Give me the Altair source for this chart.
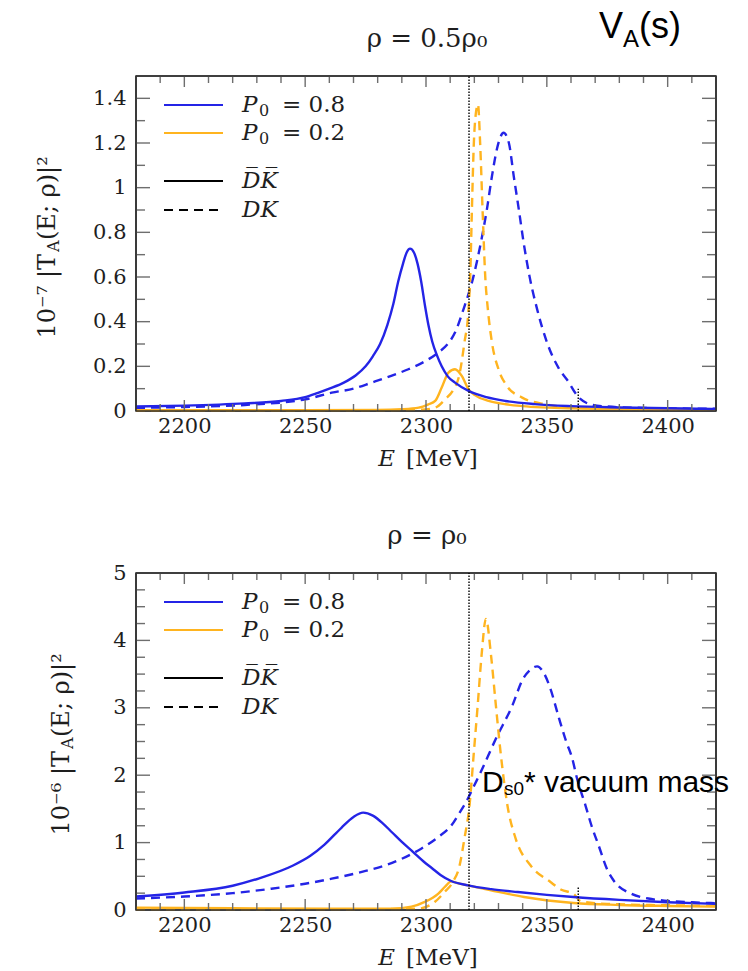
import altair as alt
import pandas as pd

# ---------------- data ----------------
# panel 1: rho = 0.5 rho0   (values in units of 1e-7)
top_blue_solid_E = [2180, 2200, 2225, 2240, 2250, 2255, 2260, 2266, 2271, 2275, 2278, 2281, 2284, 2286.5, 2288.5, 2290.5, 2292, 2293.4, 2295, 2296.5, 2298, 2299.6, 2301, 2302.6, 2304.5, 2306.5, 2309, 2312, 2317.6, 2325, 2332.8, 2345, 2360, 2380, 2400, 2420]
top_blue_solid_v = [0.02, 0.024, 0.034, 0.045, 0.062, 0.08, 0.10, 0.127, 0.16, 0.20, 0.245, 0.30, 0.385, 0.48, 0.58, 0.66, 0.71, 0.727, 0.71, 0.66, 0.58, 0.47, 0.385, 0.31, 0.25, 0.20, 0.155, 0.127, 0.09, 0.062, 0.045, 0.031, 0.022, 0.016, 0.012, 0.009]

top_blue_dash_E = [2180, 2200, 2225, 2250, 2261, 2270, 2277.5, 2285, 2292.7, 2300, 2305, 2309, 2312, 2315.5, 2319.7, 2322.7, 2325.2, 2327.3, 2329.5, 2332.1, 2334.3, 2336.3, 2338.4, 2340.4, 2342.8, 2346, 2350.1, 2355, 2359, 2361.5, 2364, 2368, 2375, 2390, 2420]
top_blue_dash_v = [0.014, 0.018, 0.027, 0.052, 0.082, 0.10, 0.127, 0.155, 0.187, 0.225, 0.261, 0.30, 0.351, 0.455, 0.605, 0.754, 0.903, 1.052, 1.18, 1.246, 1.20, 1.052, 0.903, 0.754, 0.605, 0.455, 0.306, 0.19, 0.13, 0.085, 0.053, 0.03, 0.02, 0.014, 0.01]

top_orange_solid_E = [2180, 2250, 2280, 2290, 2297, 2301, 2303.8, 2306.5, 2309.3, 2312, 2314.8, 2317.6, 2320.4, 2325.9, 2333, 2339.8, 2360, 2390, 2420]
top_orange_solid_v = [0.004, 0.004, 0.005, 0.008, 0.015, 0.03, 0.045, 0.105, 0.172, 0.187, 0.157, 0.097, 0.07, 0.045, 0.03, 0.022, 0.012, 0.008, 0.006]

top_orange_dash_E = [2180, 2280, 2298, 2303.8, 2307.9, 2311.4, 2313.7, 2315.9, 2317.6, 2318.3, 2319, 2319.8, 2320.6, 2321.5, 2322.4, 2323.4, 2324.5, 2325.6, 2327.3, 2330, 2333.5, 2339.8, 2349.4, 2362, 2390, 2420]
top_orange_dash_v = [0.002, 0.003, 0.006, 0.015, 0.052, 0.097, 0.157, 0.306, 0.455, 0.605, 0.903, 1.2, 1.33, 1.373, 1.2, 0.903, 0.605, 0.455, 0.306, 0.187, 0.112, 0.06, 0.03, 0.015, 0.008, 0.006]

# panel 2: rho = rho0   (values in units of 1e-6)
bot_blue_solid_E = [2180, 2200, 2220, 2231, 2245, 2252, 2258, 2265, 2270, 2274, 2278, 2282, 2286, 2290, 2294.7, 2299, 2302.5, 2306, 2310.4, 2317.3, 2327, 2338, 2350, 2361, 2380, 2400, 2420]
bot_blue_solid_v = [0.20, 0.26, 0.36, 0.47, 0.66, 0.80, 0.97, 1.22, 1.38, 1.444, 1.40, 1.29, 1.15, 1.01, 0.86, 0.72, 0.62, 0.52, 0.43, 0.366, 0.31, 0.267, 0.225, 0.193, 0.15, 0.115, 0.09]

bot_blue_dash_E = [2180, 2200, 2220, 2236, 2250, 2261, 2275, 2283, 2290, 2298, 2305, 2310.4, 2314, 2317.3, 2320, 2322.7, 2328.9, 2335.8, 2340, 2343, 2346, 2349, 2351.5, 2355, 2358, 2360.5, 2362.5, 2366, 2368.5, 2371.5, 2375, 2378, 2385, 2392, 2400, 2410, 2420]
bot_blue_dash_v = [0.17, 0.20, 0.25, 0.316, 0.39, 0.465, 0.58, 0.66, 0.76, 0.91, 1.08, 1.25, 1.45, 1.65, 1.85, 2.05, 2.54, 3.04, 3.42, 3.56, 3.615, 3.5, 3.28, 2.85, 2.5, 2.25, 1.95, 1.55, 1.25, 0.95, 0.6, 0.42, 0.24, 0.17, 0.135, 0.115, 0.10]

bot_orange_solid_E = [2180, 2220, 2260, 2286, 2294, 2299.5, 2305, 2308, 2310.4, 2313, 2317.3, 2326.9, 2340.6, 2361.1, 2380, 2400, 2420]
bot_orange_solid_v = [0.035, 0.025, 0.02, 0.02, 0.05, 0.12, 0.24, 0.35, 0.425, 0.40, 0.366, 0.292, 0.193, 0.104, 0.075, 0.06, 0.05]

bot_orange_dash_E = [2180, 2250, 2290, 2296.7, 2303.6, 2307.7, 2311.1, 2313.9, 2315.9, 2318, 2319.7, 2321.4, 2323, 2324.8, 2326.9, 2328.9, 2331, 2333.7, 2337.1, 2343.3, 2351.5, 2356, 2361.1, 2364, 2375, 2400, 2420]
bot_orange_dash_v = [0.01, 0.01, 0.015, 0.02, 0.119, 0.267, 0.415, 0.66, 1.06, 1.55, 2.295, 3.04, 3.78, 4.32, 3.78, 3.04, 2.295, 1.55, 1.06, 0.66, 0.415, 0.30, 0.24, 0.13, 0.09, 0.07, 0.06]

# reference lines (MeV)
ds0_vacuum_mass = [2317.8]
dk_threshold = [2363]
top_threshold_span = [0, 0.1]
bot_threshold_span = [0, 0.34]

# axes
E_domain = [2180, 2420]
x_label_values = [2200, 2250, 2300, 2350, 2400]
x_minor_ticks = [2190, 2210, 2220, 2230, 2240, 2260, 2270, 2280, 2290, 2310, 2320, 2330, 2340, 2360, 2370, 2380, 2390, 2410]
top_y_labels = [0, 0.2, 0.4, 0.6, 0.8, 1.0, 1.2, 1.4]
top_y_minor = [0.1, 0.3, 0.5, 0.7, 0.9, 1.1, 1.3]
bot_y_labels = [0, 1, 2, 3, 4, 5]
bot_y_minor = [0.25, 0.5, 0.75, 1.25, 1.5, 1.75, 2.25, 2.5, 2.75, 3.25, 3.5, 3.75, 4.25, 4.5, 4.75]

# ---------------- styling ----------------
SERIF = "DejaVu Serif"
SANS = "Liberation Sans, Arial, sans-serif"
INK = "#1e1e1e"
BLUE = "#2424e6"
ORANGE = "#ffb41f"
TICKC = "#6e6e6e"
FRAME = "#333333"
DASH = [9, 6]
LW = 2.4
ONE = alt.Data(values=[{"k": 0}])


def txt(s, x, y, size, font=SERIF, style="normal", align="left", baseline="alphabetic", angle=0, color=INK, weight="normal"):
    return alt.Chart(ONE).mark_text(
        text=s, fontSize=size, font=font, fontStyle=style, align=align,
        baseline=baseline, angle=angle, color=color, fontWeight=weight
    ).encode(x=alt.value(x), y=alt.value(y))


def seg(x1, x2, y1, y2, color, width=2.2, dash=None):
    kw = dict(color=color, strokeWidth=width)
    if dash:
        kw["strokeDash"] = dash
    return alt.Chart(ONE).mark_rule(**kw).encode(
        x=alt.value(x1), x2=alt.value(x2), y=alt.value(y1), y2=alt.value(y2))


def panel(series, ymax, ylabels, yminor, w, h, thr_span, rho_title, exp_text, ytx, extra):
    xs = alt.Scale(domain=E_domain, nice=False, zero=False)
    ys = alt.Scale(domain=[0, ymax], nice=False, zero=False)
    xax = alt.Axis(values=x_label_values, format="d", ticks=False, tickSize=0, domain=False,
                   grid=False, labelFont=SERIF, labelFontSize=21, labelColor=INK,
                   labelPadding=4, title=None)
    yax = alt.Axis(values=ylabels, format="~g", ticks=False, tickSize=0, domain=False,
                   grid=False, labelFont=SERIF, labelFontSize=21, labelColor=INK,
                   labelPadding=10, title=None)

    def X(f):
        return alt.X(f"{f}:Q", scale=xs, axis=xax)

    def Y(f):
        return alt.Y(f"{f}:Q", scale=ys, axis=yax)

    e0, e1 = E_domain
    per_px_x = (e1 - e0) / w
    per_px_y = ymax / h

    layers = []
    # curves
    for E, v, color, dashed in series:
        df = pd.DataFrame({"E": E, "v": v})
        kw = dict(color=color, strokeWidth=LW, interpolate="monotone")
        if dashed:
            kw["strokeDash"] = DASH
        layers.append(alt.Chart(df).mark_line(**kw).encode(x=X("E"), y=Y("v")))

    # inward ticks on all four sides (through the scales)
    tick_sets = []
    for vals, ln in ((x_minor_ticks, 7), (x_label_values, 11)):
        d = ln * per_px_y
        tick_sets.append(("x", pd.DataFrame({"t": vals, "a": [0] * len(vals), "b": [d] * len(vals)})))
        tick_sets.append(("x", pd.DataFrame({"t": vals, "a": [ymax] * len(vals), "b": [ymax - d] * len(vals)})))
    ymaj = [v for v in ylabels if 0 < v < ymax]
    for vals, ln in ((yminor, 9), (ymaj, 14)):
        d = ln * per_px_x
        tick_sets.append(("y", pd.DataFrame({"t": vals, "a": [e0] * len(vals), "b": [e0 + d] * len(vals)})))
        tick_sets.append(("y", pd.DataFrame({"t": vals, "a": [e1] * len(vals), "b": [e1 - d] * len(vals)})))
    for kind, df in tick_sets:
        if kind == "x":
            enc = dict(x=X("t"), y=Y("a"), y2=alt.Y2("b"))
        else:
            enc = dict(y=Y("t"), x=X("a"), x2=alt.X2("b"))
        layers.append(alt.Chart(df).mark_rule(color=TICKC, strokeWidth=1.4).encode(**enc))

    # frame
    layers.append(seg(0, w, 0, 0, FRAME, 1.6))
    layers.append(seg(0, w, h, h, FRAME, 1.6))
    layers.append(seg(0, 0, 0, h, FRAME, 1.6))
    layers.append(seg(w, w, 0, h, FRAME, 1.6))

    # vertical reference lines
    layers.append(alt.Chart(pd.DataFrame({"E": ds0_vacuum_mass, "lo": [0], "hi": [ymax]})).mark_rule(
        color="#000000", strokeWidth=1.4, strokeDash=[1.5, 1.5]).encode(
        x=X("E"), y=Y("lo"), y2=alt.Y2("hi")))
    layers.append(alt.Chart(pd.DataFrame({"E": dk_threshold, "lo": [thr_span[0]], "hi": [thr_span[1]]})).mark_rule(
        color="#000000", strokeWidth=1.4, strokeDash=[1.5, 1.5]).encode(
        x=X("E"), y=Y("lo"), y2=alt.Y2("hi")))

    # legend
    rows = [29, 57, 105, 134]
    layers.append(seg(28, 87, rows[0], rows[0], BLUE))
    layers.append(seg(28, 87, rows[1], rows[1], ORANGE))
    layers.append(seg(28, 87, rows[2], rows[2], "#000000"))
    layers.append(seg(28, 87, rows[3], rows[3], "#000000", dash=DASH))
    for r, val in ((rows[0], "0.8"), (rows[1], "0.2")):
        layers.append(txt("P", 106, r, 23, style="italic", baseline="middle"))
        layers.append(txt("0", 123, r + 6, 16, baseline="middle"))
        layers.append(txt("= " + val, 146, r, 23, baseline="middle"))
    layers.append(txt("D\u0305K\u0305", 106, rows[2], 23, style="italic", baseline="middle"))
    layers.append(txt("DK", 106, rows[3], 23, style="italic", baseline="middle"))

    # panel title
    layers.append(txt(rho_title, 291, -37, 26, align="center", baseline="middle"))

    # x-axis title
    layers.append(txt("E", 259, h + 55, 23, style="italic", align="right"))
    layers.append(txt("[MeV]", 270, h + 55, 23))

    # y-axis title (rotated, composed for the subscript)
    layers.append(txt(exp_text + "  |T", ytx, 178, 24, align="right", baseline="middle", angle=270))
    layers.append(txt("A", ytx + 6, 176, 16, align="left", baseline="middle", angle=270))
    layers.append(txt("(E;  \u03c1)|\u00b2", ytx, 164, 24, align="left", baseline="middle", angle=270))

    layers.extend(extra)
    return alt.layer(*layers).properties(width=w, height=h)


top_series = [
    (top_blue_dash_E, top_blue_dash_v, BLUE, True),
    (top_orange_dash_E, top_orange_dash_v, ORANGE, True),
    (top_orange_solid_E, top_orange_solid_v, ORANGE, False),
    (top_blue_solid_E, top_blue_solid_v, BLUE, False),
]
bot_series = [
    (bot_blue_dash_E, bot_blue_dash_v, BLUE, True),
    (bot_orange_dash_E, bot_orange_dash_v, ORANGE, True),
    (bot_orange_solid_E, bot_orange_solid_v, ORANGE, False),
    (bot_blue_solid_E, bot_blue_solid_v, BLUE, False),
]

top_extra = [
    txt("V", 463, -38, 36, font=SANS, color="#000000"),
    txt("A", 487, -29, 24, font=SANS, color="#000000"),
    txt("(s)", 503, -38, 36, font=SANS, color="#000000"),
]
bot_extra = [
    txt("D", 346, 219, 30, font=SANS, color="#000000"),
    txt("s0", 368, 222, 19, font=SANS, color="#000000"),
    txt("* vacuum mass", 388, 219, 30, font=SANS, color="#000000"),
]

top = panel(top_series, 1.5, top_y_labels, top_y_minor, 580, 335, top_threshold_span,
            "\u03c1 = 0.5\u03c1\u2080", "10\u207b\u2077", -88, top_extra)
bot = panel(bot_series, 5, bot_y_labels, bot_y_minor, 580, 337, bot_threshold_span,
            "\u03c1 = \u03c1\u2080", "10\u207b\u2076", -74, bot_extra)

chart = alt.vconcat(top, bot, spacing=50).properties(
    padding={"left": 35, "top": 8, "right": 5, "bottom": 5}
).configure_view(stroke=FRAME, strokeWidth=1.6)

chart.save("out.html", embed_options={"renderer": "svg", "actions": False})
